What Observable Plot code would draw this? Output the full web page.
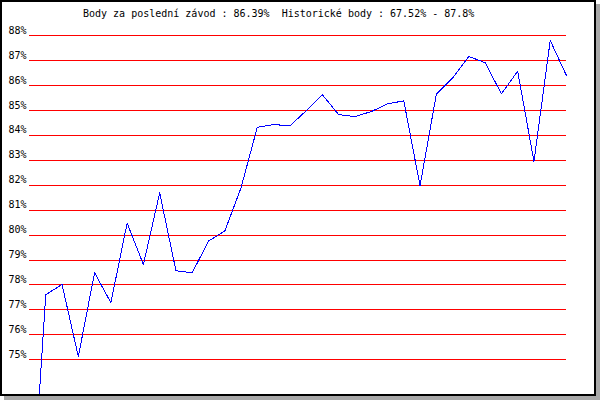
<!DOCTYPE html>
<html>
<head>
<meta charset="utf-8">
<script src="https://cdn.jsdelivr.net/npm/d3@7"></script>
<script src="https://cdn.jsdelivr.net/npm/@observablehq/plot@0.6"></script>
<style>
  html, body { margin: 0; padding: 0; background: white; }
  #frame {
    position: absolute; left: 0; top: 0;
    width: 592px; height: 392px;
    border: 2px solid #000;
    box-shadow: 4px 4px 0 #a8a8a8;
    overflow: hidden;
    background: white;
  }
  #chart { position: absolute; left: -2px; top: -2px; width: 600px; height: 400px; }
  #title {
    position: absolute; left: 83px; top: 9px;
    font-family: "DejaVu Sans Mono", monospace; font-size: 10px; line-height: 10px;
    white-space: pre; color: #000;
  }
</style>
</head>
<body>
<div id="frame"><div id="chart"></div></div>
<div id="title"></div>
<script>
const titleText = "Body za poslední závod : 86.39%  Historické body : 67.52% - 87.8%";
const races = d3.range(1, 35);
const points = [67.52, 77.61, 78.02, 75.13, 78.49, 77.29, 80.48, 78.82, 81.69, 78.57,
                78.49, 79.76, 80.16, 81.90, 84.32, 84.43, 84.38, 84.98, 85.62, 84.83,
                84.75, 84.95, 85.26, 85.38, 81.98, 85.64, 86.30, 87.16, 86.91, 85.66,
                86.57, 82.95, 87.80, 86.39];
const yTicks = [75, 76, 77, 78, 79, 80, 81, 82, 83, 84, 85, 86, 87, 88];
const yTickLabels = yTicks.map(d => d + "%");

document.getElementById("title").textContent = titleText;

const data = races.map((r, i) => ({race: r, value: points[i]}));

const chart = Plot.plot({
  width: 600,
  height: 400,
  marginLeft: 29,
  marginRight: 34,
  marginTop: 35,
  marginBottom: 40.7,
  style: {fontFamily: "DejaVu Sans Mono, monospace", fontSize: "10px", color: "#000", background: "white"},
  x: {domain: [1, 34], axis: null},
  y: {domain: [75, 88], label: null},
  marks: [
    Plot.ruleY(yTicks, {stroke: "#ff0000", strokeWidth: 1, shapeRendering: "crispEdges"}),
    Plot.axisY({ticks: yTicks, tickFormat: d => yTickLabels[yTicks.indexOf(d)], tickSize: 0, tickPadding: 3, dy: -5, fill: "#000", label: null}),
    Plot.line(data, {x: "race", y: "value", stroke: "#0000ff", strokeWidth: 1, shapeRendering: "crispEdges"})
  ]
});
document.getElementById("chart").appendChild(chart);
</script>
</body>
</html>
